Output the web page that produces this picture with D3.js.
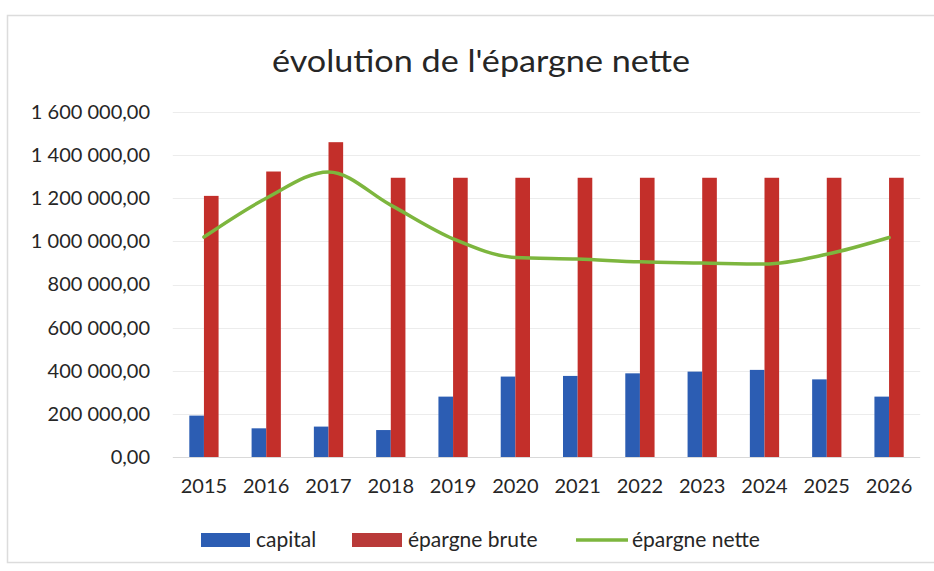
<!DOCTYPE html>
<html>
<head>
<meta charset="utf-8">
<script src="https://cdn.jsdelivr.net/npm/d3@7"></script>
<style>
  html, body { margin: 0; padding: 0; background: #ffffff; }
  svg { display: block; }
  text { font-family: Lato, "Open Sans", sans-serif; fill: #262626; }
</style>
</head>
<body>
<svg id="chart" width="934" height="571"></svg>
<script>
const years = ["2015","2016","2017","2018","2019","2020","2021","2022","2023","2024","2025","2026"];
const capital = [192000, 133000, 141000, 125000, 280000, 373000, 376000, 388000, 396000, 404000, 360000, 280000];
const epargneBrute = [1211000, 1324000, 1460000, 1295000, 1295000, 1295000, 1295000, 1295000, 1295000, 1295000, 1295000, 1295000];
const epargneNette = [1020000, 1200000, 1322000, 1168000, 1012000, 925000, 918000, 905000, 900000, 895000, 940000, 1018000];
const yTicks = [0, 200000, 400000, 600000, 800000, 1000000, 1200000, 1400000, 1600000];
const seriesNames = ["capital", "épargne brute", "épargne nette"];
const colors = { capital: "#2C5DB3", brute: "#C32F2A", nette: "#7DB63E" };

const svg = d3.select("#chart");

// chart frame
svg.append("rect")
  .attr("x", 7.5).attr("y", 15.5)
  .attr("width", 940).attr("height", 547)
  .attr("fill", "none").attr("stroke", "#dcdcdc").attr("stroke-width", 1.5);

const plot = { left: 172.8, right: 920.2, top: 112, bottom: 457 };

const x = d3.scaleBand()
  .domain(years)
  .range([plot.left, plot.right])
  .paddingInner(0.53)
  .paddingOuter(0.265);

const x1 = d3.scaleBand()
  .domain(["capital", "brute"])
  .range([0, x.bandwidth()]);

const y = d3.scaleLinear()
  .domain([0, 1600000])
  .range([plot.bottom, plot.top]);

const fr = d3.formatLocale({ decimal: ",", thousands: "\u00a0", grouping: [3], currency: ["", " €"] });
const fmt = fr.format(",.2f");

// gridlines
svg.append("g")
  .selectAll("line")
  .data(yTicks)
  .join("line")
  .attr("x1", plot.left).attr("x2", plot.right)
  .attr("y1", d => Math.round(y(d)) + 0.5).attr("y2", d => Math.round(y(d)) + 0.5)
  .attr("stroke", d => d === 0 ? "#d9d9d9" : "#ececec")
  .attr("stroke-width", 1);

// y axis
const yAxis = d3.axisLeft(y).tickValues(yTicks).tickFormat(fmt).tickSize(0).tickPadding(0);
const gy = svg.append("g").attr("transform", "translate(150,0)").call(yAxis);
gy.select(".domain").remove();
gy.selectAll("text")
  .attr("font-size", 20)
  .attr("font-family", "Lato, 'Open Sans', sans-serif")
  .attr("fill", "#262626");

// x axis
const xAxis = d3.axisBottom(x).tickSize(0).tickPadding(0);
const gx = svg.append("g").attr("transform", "translate(0,479)").call(xAxis);
gx.select(".domain").remove();
gx.selectAll("text")
  .attr("font-size", 20)
  .attr("font-family", "Lato, 'Open Sans', sans-serif")
  .attr("fill", "#262626");

// bars
const groups = svg.append("g")
  .selectAll("g")
  .data(years.map((yr, i) => ({ yr, capital: capital[i], brute: epargneBrute[i] })))
  .join("g")
  .attr("transform", d => `translate(${x(d.yr)},0)`);

groups.append("rect")
  .attr("x", x1("capital"))
  .attr("width", x1.bandwidth())
  .attr("y", d => y(d.capital))
  .attr("height", d => y(0) - y(d.capital))
  .attr("fill", colors.capital);

groups.append("rect")
  .attr("x", x1("brute"))
  .attr("width", x1.bandwidth())
  .attr("y", d => y(d.brute))
  .attr("height", d => y(0) - y(d.brute))
  .attr("fill", colors.brute);

// line
const line = d3.line()
  .x((d, i) => x(years[i]) + x.bandwidth() / 2)
  .y(d => y(d))
  .curve(d3.curveMonotoneX);

svg.append("path")
  .datum(epargneNette)
  .attr("d", line)
  .attr("fill", "none")
  .attr("stroke", colors.nette)
  .attr("stroke-width", 3.5)
  .attr("stroke-linejoin", "round")
  .attr("stroke-linecap", "round");

// title
svg.append("text")
  .attr("x", 481).attr("y", 72)
  .attr("text-anchor", "middle")
  .attr("font-size", 30)
  .attr("textLength", 418)
  .attr("lengthAdjust", "spacingAndGlyphs")
  .text("évolution de l'épargne nette");

// legend
const legend = svg.append("g");
legend.append("rect").attr("x", 201).attr("y", 533).attr("width", 49).attr("height", 14).attr("fill", colors.capital);
legend.append("text").attr("x", 256).attr("y", 547).attr("font-size", 21).text(seriesNames[0]);
legend.append("rect").attr("x", 352).attr("y", 533).attr("width", 50).attr("height", 14).attr("fill", "#B93A39");
legend.append("text").attr("x", 408).attr("y", 547).attr("font-size", 21).text(seriesNames[1]);
legend.append("line").attr("x1", 576).attr("x2", 628).attr("y1", 540).attr("y2", 540)
  .attr("stroke", colors.nette).attr("stroke-width", 3.5);
legend.append("text").attr("x", 632).attr("y", 547).attr("font-size", 21).text(seriesNames[2]);
</script>
</body>
</html>
